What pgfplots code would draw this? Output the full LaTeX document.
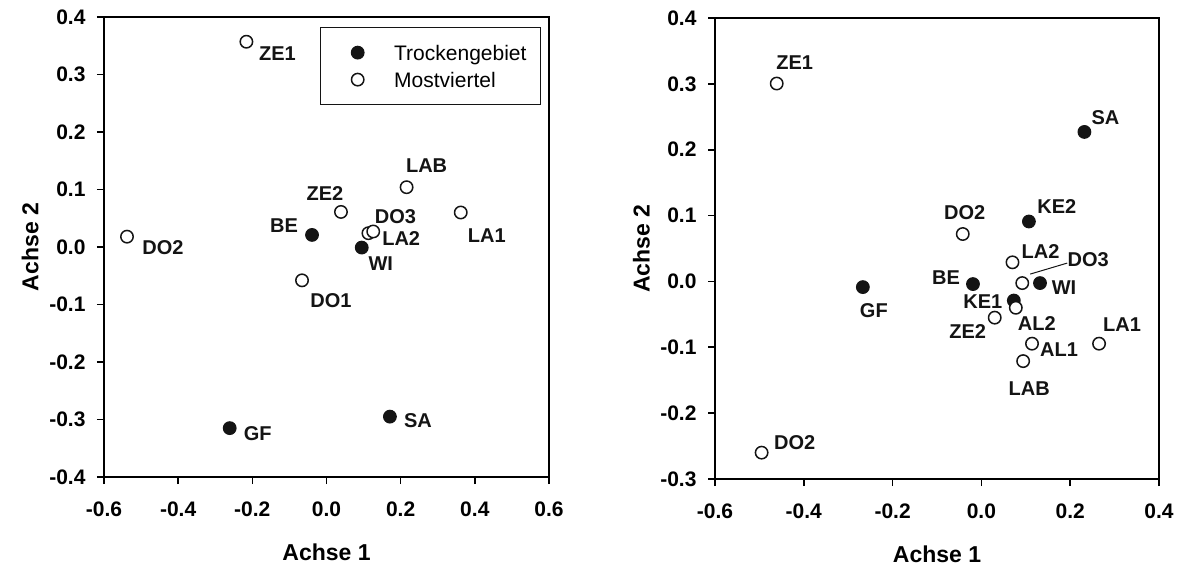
\documentclass[border=0pt]{standalone}
\usepackage{fontspec}
\setmainfont{Liberation Sans}
\usepackage{pgfplots}
\pgfplotsset{compat=1.18}
\usepackage{pgfplotstable}

% left panel
\pgfplotstableread{
x y label dx dy
-0.039 0.021 BE -28 9
0.095 -0.001 WI 19 -16
-0.261 -0.315 GF 28 -5
0.171 -0.295 SA 28 -4
}\LTrock
\pgfplotstableread{
x y label dx dy
-0.216 0.357 ZE1 31 -12
0.216 0.104 LAB 20 22
0.039 0.061 ZE2 -16 18
0.362 0.060 LA1 26 -23
0.113 0.024 DO3 27 17
0.126 0.027 LA2 28 -7
-0.066 -0.058 DO1 29 -20
-0.538 0.018 DO2 36 -11
}\LMost
% right panel
\pgfplotstableread{
x y label dx dy
0.232 0.227 SA 21 14
0.107 0.091 KE2 28 15
0.132 -0.0025 WI 24 -5
-0.019 -0.004 BE -27 6
-0.267 -0.0086 GF 11 -24
0.073 -0.029 KE1 -31 -1
}\RTrock
\pgfplotstableread{
x y label dx dy
-0.461 0.3005 ZE1 18 21
-0.042 0.072 DO2 2 21
0.070 0.029 LA2 28 11
0.092 -0.0025 DO3 66 23
0.0775 -0.040 AL2 21 -16
0.030 -0.055 ZE2 -27 -14
0.114 -0.0945 AL1 27 -6
0.265 -0.0945 LA1 23 19
0.094 -0.121 LAB 6 -28
-0.495 -0.260 DO2 33 10
}\RMost

\pgfplotsset{
  myaxis/.style={
    scale only axis, anchor=south west, clip=false,
    axis line style={line width=1.6bp},
    tick align=outside, tick pos=left, major tick length=7bp,
    every tick/.style={black, line width=1.6bp},
    ticklabel style={font=\fontsize{21bp}{24bp}\selectfont\bfseries},
    xticklabel style={yshift=-14bp},
    yticklabel style={xshift=-8bp},
    /pgf/number format/fixed, /pgf/number format/fixed zerofill,
    /pgf/number format/precision=1, /pgf/number format/assume math mode=true,
    xlabel={Achse 1}, ylabel={Achse 2},
    every axis x label/.style={at={(axis description cs:0.5,-0.163)}, anchor=center,
      font=\fontsize{23bp}{26bp}\selectfont\bfseries},
    every axis y label/.style={at={(axis description cs:-0.166,0.5)}, anchor=center, rotate=90,
      font=\fontsize{23bp}{26bp}\selectfont\bfseries},
  },
  trock/.style={only marks, mark=*, mark size=6.3bp,
    mark options={fill=black!92, draw=black!92, line width=1.2bp}},
  most/.style={only marks, mark=*, mark size=6.2bp,
    mark options={fill=white, draw=black!92, line width=1.5bp}},
  lab/.style={nodes near coords, point meta=explicit symbolic,
    visualization depends on={\thisrow{dx}\as\dx},
    visualization depends on={\thisrow{dy}\as\dy},
    every node near coord/.append style={anchor=center, xshift=\dx bp, yshift=\dy bp,
      font=\fontsize{20bp}{22bp}\selectfont\bfseries, inner sep=0pt, text=black!92}},
}

\begin{document}
\begin{tikzpicture}
\useasboundingbox (0,0) rectangle (1201bp,568bp);
\begin{axis}[myaxis, at={(104bp,91bp)}, width=445bp, height=460bp,
  xmin=-0.6, xmax=0.6, ymin=-0.4, ymax=0.4,
  xtick={-0.6,-0.4,-0.2,0,0.2,0.4,0.6},
  ytick={-0.4,-0.3,-0.2,-0.1,0,0.1,0.2,0.3,0.4},
  legend cell align=left,
  legend image code/.code={\draw[#1] plot coordinates {(0bp,0bp)}; \path (-37bp,0bp) (36bp,0bp);},
  legend style={at={(axis description cs:0.982,0.978)}, anchor=north east,
    draw=black!92, line width=1bp, fill=white, inner xsep=0pt, inner ysep=17.5bp,
    row sep=12bp, column sep=0pt,
    nodes={inner sep=0pt, text height=15bp, text depth=0pt,
      font=\fontsize{21bp}{24bp}\selectfont}},
]
\addplot[trock, lab] table[x=x, y=y, meta=label] {\LTrock};
\addlegendentry{Trockengebiet\hspace*{14bp}}
\addplot[most, lab] table[x=x, y=y, meta=label] {\LMost};
\addlegendentry{Mostviertel}
\end{axis}
\begin{axis}[myaxis, at={(715bp,89bp)}, width=444bp, height=461bp,
  xmin=-0.6, xmax=0.4, ymin=-0.3, ymax=0.4,
  xtick={-0.6,-0.4,-0.2,0,0.2,0.4},
  ytick={-0.3,-0.2,-0.1,0,0.1,0.2,0.3,0.4},
]
\addplot[trock, lab] table[x=x, y=y, meta=label] {\RTrock};
\addplot[most, lab] table[x=x, y=y, meta=label] {\RMost};
\draw[line width=1bp, black!92] ([shift={(8bp,9bp)}]axis cs:0.092,-0.0025) -- ([shift={(45bp,20bp)}]axis cs:0.092,-0.0025);
\end{axis}
\end{tikzpicture}
\end{document}
